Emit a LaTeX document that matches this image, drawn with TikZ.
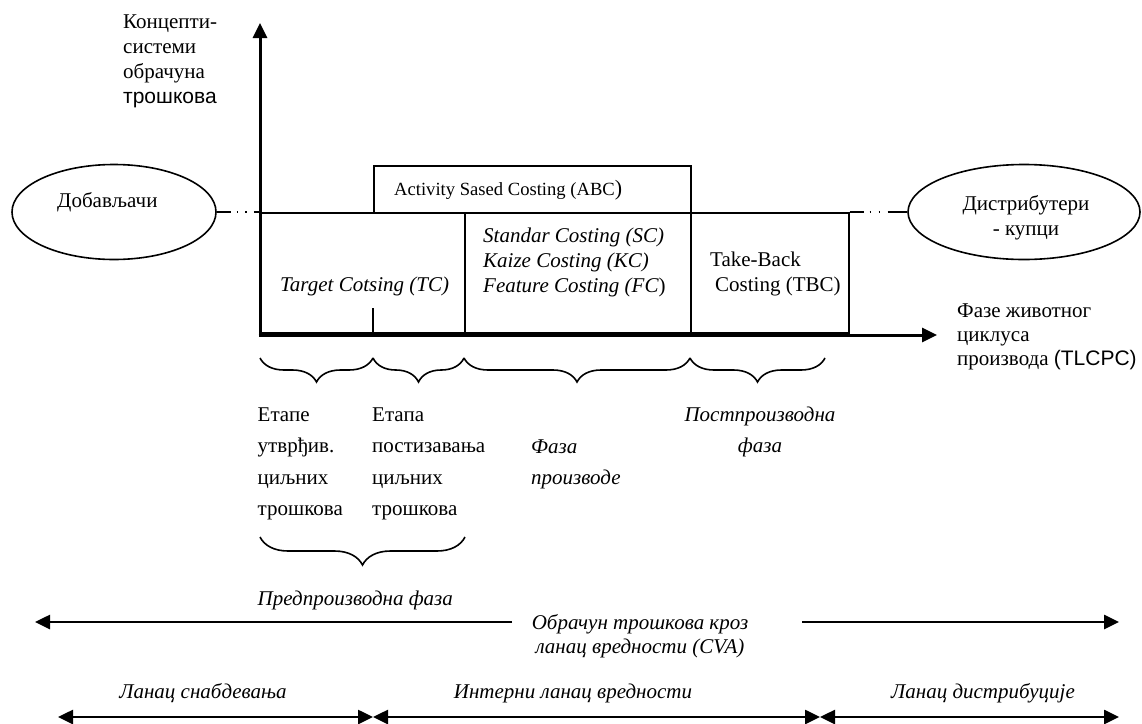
\documentclass[tikz,border=0pt]{standalone}
\usepackage{fontspec}
\setmainfont{Liberation Serif}
\newfontfamily\arialfont{Liberation Sans}
\usetikzlibrary{arrows.meta,shapes.geometric,decorations.pathreplacing}

\begin{document}
\begin{tikzpicture}[x=1pt,y=-1pt,
  % multi-line nodes are placed by the baseline of their last line
  txt/.style={inner sep=0pt, anchor=base west, align=left,
    font=\fontsize{21}{25}\selectfont},
  txtc/.style={txt, anchor=base, align=center},
  lowtxt/.style={inner sep=0pt, anchor=base west, align=left,
    font=\fontsize{21}{31.5}\selectfont},
  frame/.style={draw, line width=1.6pt, inner sep=0pt, anchor=north west},
  oval/.style={draw, ellipse, line width=1.6pt, inner sep=0pt},
  axisarrow/.style={line width=3pt, -{Triangle[length=15pt,width=14pt]}},
  chain/.style={line width=2.6pt, -{Triangle[length=15pt,width=14pt]}},
  chainboth/.style={line width=2.6pt,
    {Triangle[length=15pt,width=14pt]}-{Triangle[length=15pt,width=14pt]}},
  brc/.style={decorate, line width=1.6pt,
    decoration={brace, mirror, amplitude=#1}},
  brc/.default=24pt
]
\useasboundingbox (0,0) rectangle (1142,723);

% ---------- axes ----------
\coordinate (orig)  at (260,336.5);
\coordinate (ytip)  at (260,23);
\coordinate (xfrom) at (258.5,335);
\coordinate (xtip)  at (937,335);
\draw[axisarrow] (orig) -- (ytip);
\draw[axisarrow] (xfrom) -- (xtip);

\node[txt] (ylab) at (123,103)
  {Концепти-\\системи\\обрачуна\\{\arialfont трошкова}};
\node[txt, font=\fontsize{21}{24}\selectfont] (xlab) at (957,365)
  {Фазе животног\\циклуса\\производа {\arialfont (TLCPC)}};

% ---------- costing boxes ----------
\node[frame, minimum width=317pt, minimum height=47pt] (abc) at (373,165) {};
\node[frame, minimum width=204pt, minimum height=120pt] (tcbox) at (260,212) {};
\node[frame, minimum width=226pt, minimum height=120pt] (prodbox) at (464,212) {};
\node[frame, minimum width=158pt, minimum height=120pt] (tbcbox) at (690,212) {};
\coordinate (tick) at (373,308);
\draw[line width=1.6pt] (tick) -- (tick |- tcbox.south);

\node[txt, font=\fontsize{18.6}{22}\selectfont] (abct) at (394,195)
  {Activity Sased Costing (ABC{\fontsize{22}{22}\selectfont)}};
\node[txt, font=\fontsize{21}{25}\itshape] (tct) at (280,291)
  {Target Cotsing (TC)};
\node[txt, font=\fontsize{21}{25}\itshape] (prodt) at (483,292)
  {Standar Costing (SC)\\Kaize Costing (KC)\\Feature Costing (FC{\upshape )}};
\node[txt] (tbct) at (710,291)
  {Take-Back\\\hspace*{5pt}Costing (TBC)};

% ---------- partners ----------
\node[oval, minimum width=204pt, minimum height=95pt] (sup) at (114,212) {};
\node[txt] (supt) at (57,207) {Добављачи};
\node[oval, minimum width=232pt, minimum height=95pt] (cust) at (1024,212) {};
\node[txtc] (custt) at (1026,235) {Дистрибутери\\- купци};

\draw[line width=1.6pt, dash pattern=on 14pt off 6pt on 1.5pt off 7pt on 1.5pt off 7pt on 8pt]
  (sup.east) -- (tcbox.north west);
\draw[line width=1.6pt, dash pattern=on 14pt off 6pt on 1.5pt off 7.5pt on 1.5pt off 7.5pt on 22pt]
  (tbcbox.north east) -- (cust.west);

% ---------- phase braces ----------
\coordinate (b0) at (260,358);
\coordinate (b1) at (373,358);
\coordinate (b2) at (464,358);
\coordinate (b3) at (690,358);
\coordinate (b4) at (825,358);
\draw[brc] (b0) -- (b1);
\draw[brc] (b1) -- (b2);
\draw[brc] (b2) -- (b3);
\draw[brc] (b3) -- (b4);

\node[lowtxt] (ph1) at (257.5,515.5) {Етапе\\утврђив.\\циљних\\трошкова};
\node[lowtxt] (ph2) at (372,515.5) {Етапа\\постизавања\\циљних\\трошкова};
\node[lowtxt, font=\fontsize{21}{31.5}\itshape] (ph3) at (531,484.5) {Фаза\\производе};
\node[lowtxt, anchor=base, align=center, font=\fontsize{21}{31.5}\itshape] (ph4)
  at (760,452.5) {Постпроизводна\\фаза};

\coordinate (p0) at (260,537);
\coordinate (p1) at (465,537);
\draw[brc=28pt] (p0) -- (p1);
\node[lowtxt, font=\fontsize{21}{31.5}\itshape] (pre) at (257.5,605) {Предпроизводна фаза};

% ---------- value chain ----------
\coordinate (cvaL)  at (512,622);
\coordinate (cvaLt) at (35,622);
\coordinate (cvaR)  at (802,622);
\coordinate (cvaRt) at (1119,622);
\draw[chain] (cvaL) -- (cvaLt);
\draw[chain] (cvaR) -- (cvaRt);
\node[txtc, font=\fontsize{21}{24}\itshape] (cvat) at (640,653)
  {Обрачун трошкова кроз\\ланац вредности (CVA)};

\coordinate (k0) at (58,717);
\coordinate (k1) at (373,717);
\coordinate (k2) at (820,717);
\coordinate (k3) at (1119,717);
\draw[chainboth] (k0) -- (k1);
\draw[chainboth] (k1) -- (k2);
\draw[chainboth] (k2) -- (k3);
\node[txtc, font=\fontsize{21}{25}\itshape] (sct) at (203,698) {Ланац снабдевања};
\node[txtc, font=\fontsize{21}{25}\itshape] (ivt) at (573,698) {Интерни ланац вредности};
\node[txtc, font=\fontsize{21}{25}\itshape] (dct) at (983,698) {Ланац дистрибуције};
\end{tikzpicture}
\end{document}
